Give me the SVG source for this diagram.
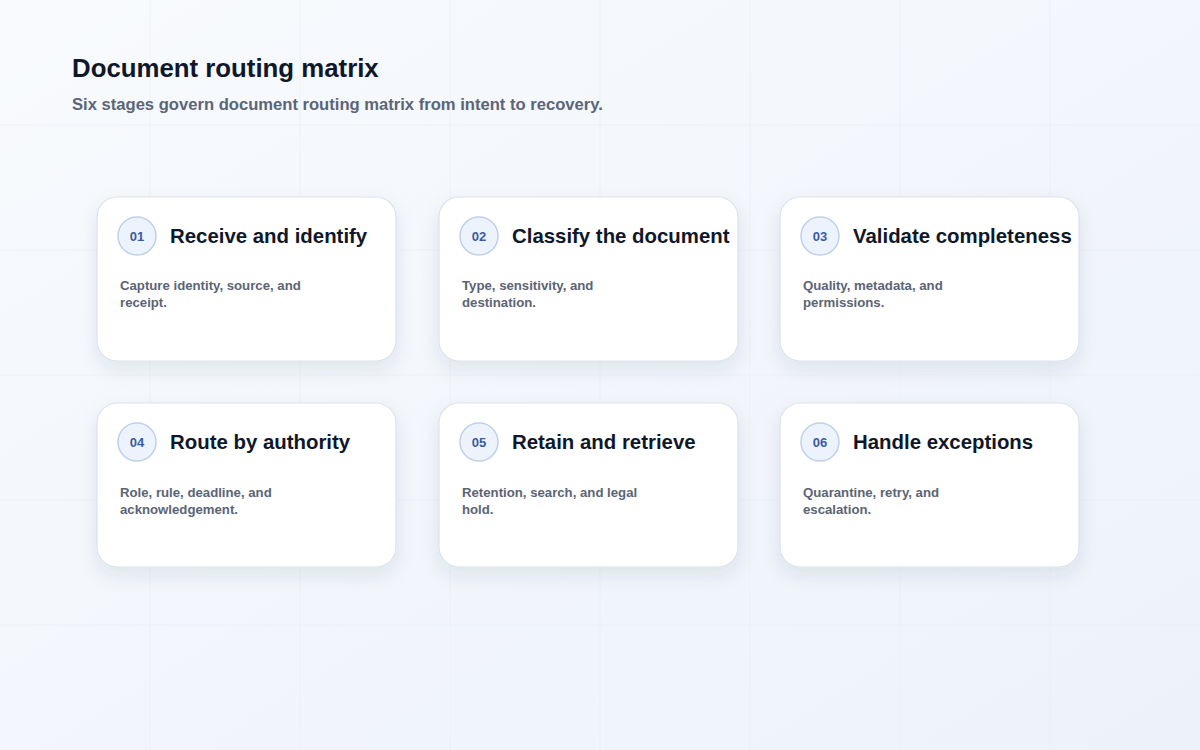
<svg xmlns="http://www.w3.org/2000/svg" width="1200" height="750" viewBox="0 0 1200 750">
<style>
.h1{font-family:"Liberation Sans",Arial,sans-serif;font-weight:700;font-size:25.8px;fill:#0f172a}
.sub{font-family:"Liberation Sans",Arial,sans-serif;font-weight:700;font-size:16.6px;fill:#5b6578}
.card{fill:#ffffff;stroke:#dbe2ec;stroke-width:1.2}
.badge{fill:#edf3fd;stroke:#bfd0ea;stroke-width:1.5}
.num{font-family:"Liberation Sans",Arial,sans-serif;font-weight:700;font-size:13px;fill:#3a5ba3;text-anchor:middle}
.title{font-family:"Liberation Sans",Arial,sans-serif;font-weight:700;font-size:20.4px;fill:#0f172a}
.desc{font-family:"Liberation Sans",Arial,sans-serif;font-weight:700;font-size:13.2px;fill:#5b6475}
.grid{stroke:#e6ebf2;stroke-width:1}
</style>
<defs>
<linearGradient id="bg" x1="0" y1="0" x2="1" y2="1">
<stop offset="0" stop-color="#f8fafd"/>
<stop offset="1" stop-color="#edf2fa"/>
</linearGradient>
<filter id="sh" x="-20%" y="-20%" width="140%" height="160%">
<feDropShadow dx="0" dy="8" stdDeviation="9" flood-color="#1e2a4a" flood-opacity="0.09"/>
</filter>
</defs>
<rect width="1200" height="750" fill="url(#bg)"/>
<g id="grid" opacity="0.5">
<line class="grid" x1="150" y1="0" x2="150" y2="750"/>
<line class="grid" x1="300" y1="0" x2="300" y2="750"/>
<line class="grid" x1="450" y1="0" x2="450" y2="750"/>
<line class="grid" x1="600" y1="0" x2="600" y2="750"/>
<line class="grid" x1="750" y1="0" x2="750" y2="750"/>
<line class="grid" x1="900" y1="0" x2="900" y2="750"/>
<line class="grid" x1="1050" y1="0" x2="1050" y2="750"/>
<line class="grid" x1="0" y1="125" x2="1200" y2="125"/>
<line class="grid" x1="0" y1="250" x2="1200" y2="250"/>
<line class="grid" x1="0" y1="375" x2="1200" y2="375"/>
<line class="grid" x1="0" y1="500" x2="1200" y2="500"/>
<line class="grid" x1="0" y1="625" x2="1200" y2="625"/>
</g>
<g id="header">
<text class="h1" x="72" y="77">Document routing matrix</text>
<text class="sub" x="72" y="110">Six stages govern document routing matrix from intent to recovery.</text>
</g>
<g id="connectors"></g>
<g id="node-01">
<rect class="card" x="97" y="197" width="299" height="164" rx="20" filter="url(#sh)"/>
<circle class="badge" cx="137" cy="236" r="19"/>
<text class="num" x="137" y="240.5">01</text>
<text class="title" x="170" y="243">Receive and identify</text>
<text class="desc" x="120" y="290">Capture identity, source, and</text>
<text class="desc" x="120" y="307">receipt.</text>
</g>
<g id="node-02">
<rect class="card" x="439" y="197" width="299" height="164" rx="20" filter="url(#sh)"/>
<circle class="badge" cx="479" cy="236" r="19"/>
<text class="num" x="479" y="240.5">02</text>
<text class="title" x="512" y="243">Classify the document</text>
<text class="desc" x="462" y="290">Type, sensitivity, and</text>
<text class="desc" x="462" y="307">destination.</text>
</g>
<g id="node-03">
<rect class="card" x="780" y="197" width="299" height="164" rx="20" filter="url(#sh)"/>
<circle class="badge" cx="820" cy="236" r="19"/>
<text class="num" x="820" y="240.5">03</text>
<text class="title" x="853" y="243">Validate completeness</text>
<text class="desc" x="803" y="290">Quality, metadata, and</text>
<text class="desc" x="803" y="307">permissions.</text>
</g>
<g id="node-04">
<rect class="card" x="97" y="403" width="299" height="164" rx="20" filter="url(#sh)"/>
<circle class="badge" cx="137" cy="442" r="19"/>
<text class="num" x="137" y="446.5">04</text>
<text class="title" x="170" y="449">Route by authority</text>
<text class="desc" x="120" y="497">Role, rule, deadline, and</text>
<text class="desc" x="120" y="514">acknowledgement.</text>
</g>
<g id="node-05">
<rect class="card" x="439" y="403" width="299" height="164" rx="20" filter="url(#sh)"/>
<circle class="badge" cx="479" cy="442" r="19"/>
<text class="num" x="479" y="446.5">05</text>
<text class="title" x="512" y="449">Retain and retrieve</text>
<text class="desc" x="462" y="497">Retention, search, and legal</text>
<text class="desc" x="462" y="514">hold.</text>
</g>
<g id="node-06">
<rect class="card" x="780" y="403" width="299" height="164" rx="20" filter="url(#sh)"/>
<circle class="badge" cx="820" cy="442" r="19"/>
<text class="num" x="820" y="446.5">06</text>
<text class="title" x="853" y="449">Handle exceptions</text>
<text class="desc" x="803" y="497">Quarantine, retry, and</text>
<text class="desc" x="803" y="514">escalation.</text>
</g>
</svg>
